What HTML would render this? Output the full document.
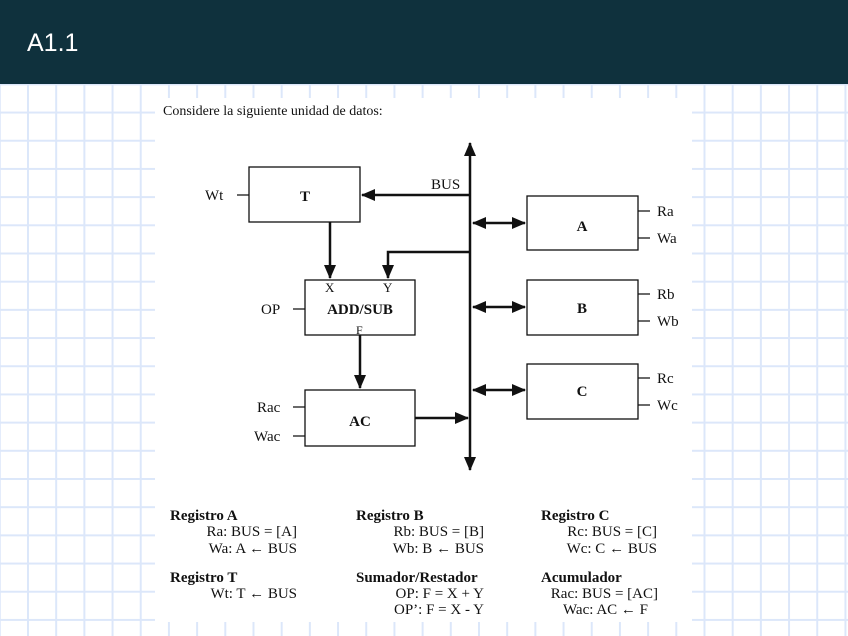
<!DOCTYPE html>
<html><head><meta charset="utf-8"><style>
body{margin:0;width:848px;height:636px;overflow:hidden;position:relative;font-family:"Liberation Sans",sans-serif;
background-color:#fff;
background-image:linear-gradient(to right,#dce7fa 2px,transparent 2px),linear-gradient(to bottom,#dce7fa 2px,transparent 2px);
background-size:28.2px 28.2px;background-position:27px 27px;}
.hdr{position:absolute;left:0;top:0;width:848px;height:84px;background:#0f313d;color:#fff;font-size:25px;}
.hdr span{position:absolute;left:27px;top:29px;}
.img{position:absolute;left:155px;top:98px;width:537px;height:524px;background:#fff;}
svg{position:absolute;left:0;top:0}
text{font-family:"Liberation Serif",serif;font-size:15px;fill:#111}
.b{font-weight:bold}
</style></head><body>
<div class="hdr"><span>A1.1</span></div>
<div class="img"></div>
<svg width="848" height="636">
<defs><marker id="ah" markerWidth="14" markerHeight="14" refX="13" refY="6" orient="auto" markerUnits="userSpaceOnUse"><path d="M0,0 L14,6 L0,12 Z" fill="#111"/></marker>
<marker id="as" markerWidth="14" markerHeight="14" refX="1" refY="6" orient="auto" markerUnits="userSpaceOnUse"><path d="M14,0 L0,6 L14,12 Z" fill="#111"/></marker></defs>
<text x="163" y="115" style="font-size:14px">Considere la siguiente unidad de datos:</text>
<g stroke="#111" fill="none" stroke-width="1.3">
<rect x="249" y="167" width="111" height="55"/>
<rect x="305" y="280" width="110" height="55"/>
<rect x="305" y="390" width="110" height="56"/>
<rect x="527" y="196" width="111" height="54"/>
<rect x="527" y="280" width="111" height="55"/>
<rect x="527" y="364" width="111" height="55"/>
<path d="M237 195H249M293 309H305M293 407H305M293 436H305M638 211H650M638 238H650M638 294H650M638 321H650M638 378H650M638 405H650"/>
</g>
<g stroke="#111" fill="none" stroke-width="2.5">
<line x1="470" y1="300" x2="470" y2="143" marker-end="url(#ah)"/>
<line x1="470" y1="300" x2="470" y2="470" marker-end="url(#ah)"/>
<line x1="470" y1="195" x2="362" y2="195" marker-end="url(#ah)"/>
<line x1="330" y1="222" x2="330" y2="278" marker-end="url(#ah)"/>
<polyline points="470,252 388,252 388,278" marker-end="url(#ah)"/>
<line x1="360" y1="335" x2="360" y2="388" marker-end="url(#ah)"/>
<line x1="415" y1="418" x2="468" y2="418" marker-end="url(#ah)"/>
<line x1="473" y1="223" x2="525" y2="223" marker-start="url(#as)" marker-end="url(#ah)"/>
<line x1="473" y1="307" x2="525" y2="307" marker-start="url(#as)" marker-end="url(#ah)"/>
<line x1="473" y1="390" x2="525" y2="390" marker-start="url(#as)" marker-end="url(#ah)"/>
</g>
<text x="431" y="189">BUS</text>
<text x="305" y="201" class="b" text-anchor="middle">T</text>
<text x="205" y="200">Wt</text>
<text x="325" y="292" style="font-size:13px">X</text>
<text x="383" y="292" style="font-size:13px">Y</text>
<text x="356" y="334" style="font-size:12px">F</text>
<text x="360" y="314" class="b" text-anchor="middle">ADD/SUB</text>
<text x="261" y="314">OP</text>
<text x="360" y="426" class="b" text-anchor="middle">AC</text>
<text x="257" y="412">Rac</text>
<text x="254" y="441">Wac</text>
<text x="582" y="231" class="b" text-anchor="middle">A</text>
<text x="582" y="313" class="b" text-anchor="middle">B</text>
<text x="582" y="396" class="b" text-anchor="middle">C</text>
<text x="657" y="216">Ra</text><text x="657" y="243">Wa</text>
<text x="657" y="299">Rb</text><text x="657" y="326">Wb</text>
<text x="657" y="383">Rc</text><text x="657" y="410">Wc</text>
<g>
<text x="170" y="520" class="b">Registro A</text>
<text x="297" y="536" text-anchor="end">Ra: BUS = [A]</text>
<text x="297" y="553" text-anchor="end">Wa: A ← BUS</text>
<text x="170" y="582" class="b">Registro T</text>
<text x="297" y="598" text-anchor="end">Wt: T ← BUS</text>
<text x="356" y="520" class="b">Registro B</text>
<text x="484" y="536" text-anchor="end">Rb: BUS = [B]</text>
<text x="484" y="553" text-anchor="end">Wb: B ← BUS</text>
<text x="356" y="582" class="b">Sumador/Restador</text>
<text x="484" y="598" text-anchor="end">OP: F = X + Y</text>
<text x="484" y="614" text-anchor="end">OP’: F = X - Y</text>
<text x="541" y="520" class="b">Registro C</text>
<text x="657" y="536" text-anchor="end">Rc: BUS = [C]</text>
<text x="657" y="553" text-anchor="end">Wc: C ← BUS</text>
<text x="541" y="582" class="b">Acumulador</text>
<text x="658" y="598" text-anchor="end">Rac: BUS = [AC]</text>
<text x="648" y="614" text-anchor="end">Wac: AC ← F</text>
</g>
</svg>
</body></html>
